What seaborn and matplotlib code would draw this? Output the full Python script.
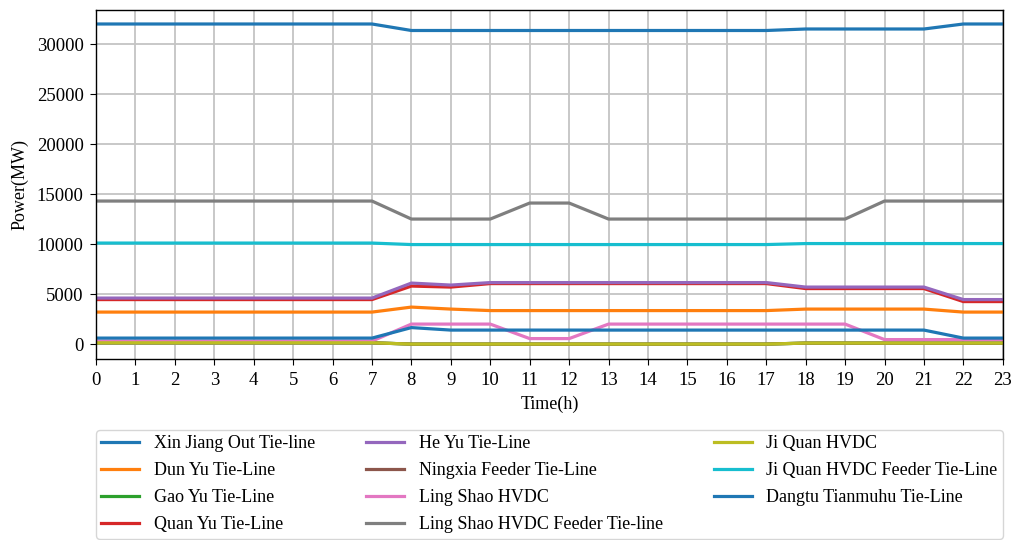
import numpy as np
import pandas as pd
import matplotlib
matplotlib.use("Agg")
import matplotlib.pyplot as plt
import seaborn as sns

hours = list(range(24))
series_names = [
    "Xin Jiang Out Tie-line", "Dun Yu Tie-Line", "Gao Yu Tie-Line", "Quan Yu Tie-Line",
    "He Yu Tie-Line", "Ningxia Feeder Tie-Line", "Ling Shao HVDC",
    "Ling Shao HVDC Feeder Tie-line", "Ji Quan HVDC", "Ji Quan HVDC Feeder Tie-Line",
    "Dangtu Tianmuhu Tie-Line",
]
xinjiang = [32000, 32000, 32000, 32000, 32000, 32000, 32000, 32000, 31350, 31350, 31350, 31350,
            31350, 31350, 31350, 31350, 31350, 31350, 31500, 31500, 31500, 31500, 32000, 32000]
dunyu = [3200, 3200, 3200, 3200, 3200, 3200, 3200, 3200, 3700, 3500, 3350, 3350,
         3350, 3350, 3350, 3350, 3350, 3350, 3500, 3500, 3500, 3500, 3200, 3200]
gaoyu = [130, 130, 130, 130, 130, 130, 130, 130, 0, 0, 0, 0,
         0, 0, 0, 0, 0, 0, 100, 100, 100, 100, 100, 100]
quanyu = [4450, 4450, 4450, 4450, 4450, 4450, 4450, 4450, 5800, 5700, 6050, 6050,
          6050, 6050, 6050, 6050, 6050, 6050, 5550, 5550, 5550, 5550, 4250, 4250]
heyu = [4600, 4600, 4600, 4600, 4600, 4600, 4600, 4600, 6100, 5900, 6150, 6150,
        6150, 6150, 6150, 6150, 6150, 6150, 5700, 5700, 5700, 5700, 4450, 4450]
ningxia = [130, 130, 130, 130, 130, 130, 130, 130, 0, 0, 0, 0,
           0, 0, 0, 0, 0, 0, 100, 100, 100, 100, 100, 100]
lingshao = [300, 300, 300, 300, 300, 300, 300, 300, 2000, 2000, 2000, 550,
            550, 2000, 2000, 2000, 2000, 2000, 2000, 2000, 450, 450, 450, 450]
lingshao_feeder = [14300, 14300, 14300, 14300, 14300, 14300, 14300, 14300, 12500, 12500, 12500, 14100,
                   14100, 12500, 12500, 12500, 12500, 12500, 12500, 12500, 14300, 14300, 14300, 14300]
jiquan = [130, 130, 130, 130, 130, 130, 130, 130, 0, 0, 0, 0,
          0, 0, 0, 0, 0, 0, 100, 100, 100, 100, 100, 100]
jiquan_feeder = [10100, 10100, 10100, 10100, 10100, 10100, 10100, 10100, 9950, 9950, 9950, 9950,
                 9950, 9950, 9950, 9950, 9950, 9950, 10050, 10050, 10050, 10050, 10050, 10050]
dangtu = [600, 600, 600, 600, 600, 600, 600, 600, 1650, 1400, 1400, 1400,
          1400, 1400, 1400, 1400, 1400, 1400, 1400, 1400, 1400, 1400, 600, 600]

all_values = [xinjiang, dunyu, gaoyu, quanyu, heyu, ningxia, lingshao,
              lingshao_feeder, jiquan, jiquan_feeder, dangtu]

rows = []
for name, vals in zip(series_names, all_values):
    for h, v in zip(hours, vals):
        rows.append({"Time": h, "Power": v, "Line": name})
df = pd.DataFrame(rows)

tab = sns.color_palette("tab10")
colors = [tab[i % 10] for i in range(11)]

plt.rcParams['font.family'] = ['Liberation Serif', 'DejaVu Serif']
plt.rcParams['font.size'] = 13

fig = plt.figure(figsize=(10.16, 5.40), dpi=100)
ax = fig.add_axes([0.0945, 0.335, 0.8925, 0.6465])

sns.lineplot(data=df, x="Time", y="Power", hue="Line", hue_order=series_names,
             palette=colors, linewidth=2.3, ax=ax, legend=False)

ax.set_xlim(0, 23)
ax.set_ylim(-1500, 33400)
ax.set_xticks(hours)
ax.set_yticks([0, 5000, 10000, 15000, 20000, 25000, 30000])
ax.tick_params(axis="both", labelsize=13.5, pad=5, length=4)
ax.grid(True, color="#c4c4c4", linewidth=1.3)
ax.set_axisbelow(True)
ax.set_xlabel("Time(h)", fontsize=13, labelpad=5)
ax.set_ylabel("Power(MW)", fontsize=13, labelpad=6)
for s in ax.spines.values():
    s.set_color("black")
    s.set_linewidth(1.0)

handles = [plt.Line2D([0], [0], color=c, linewidth=2.3) for c in colors]
ax.legend(handles, series_names, loc="upper left", bbox_to_anchor=(0.0, -0.303, 1.0, 0.1),
          mode="expand", ncol=3, frameon=True, fontsize=13, handlelength=2.1,
          labelspacing=0.55, borderpad=0.3, borderaxespad=0.0, fancybox=True,
          edgecolor="#cccccc")

fig.savefig("out.png", dpi=100)
